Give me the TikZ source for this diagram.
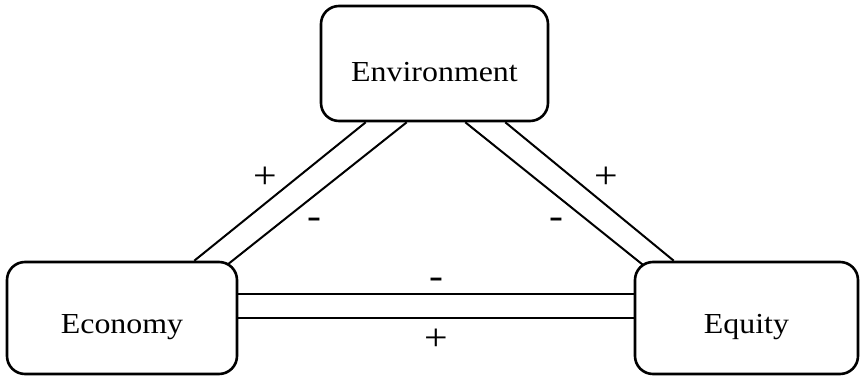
\documentclass[tikz,border=0pt]{standalone}
\usepackage{fontspec}
\setmainfont{Liberation Serif}[FakeStretch=1.1]
\usetikzlibrary{backgrounds}

\tikzset{
  sector/.style={draw, fill=white, line width=2.6pt, rounded corners=18pt,
    minimum height=112pt, text height=30pt, text depth=0pt, inner sep=0pt,
    font=\fontsize{29}{34}\selectfont},
  link/.style={line width=2pt},
  sign/.style={inner sep=2pt, font=\fontsize{38}{40}\selectfont},
}

\begin{document}
\begin{tikzpicture}[x=1pt, y=-1pt]
    \useasboundingbox (0,0) rectangle (860,377);
    \node[sector, minimum width=227pt, minimum height=115pt, text height=37pt] (env) at (434.5,63.5) {Environment};
    \node[sector, minimum width=230pt] (econ) at (122,318) {Economy};
    \node[sector, minimum width=223pt] (eq) at (746.5,318) {Equity};
    \begin{scope}[on background layer]
      % economy -- environment
      \draw[link] ([shift={(-44,0)}]econ.north east) -- ([shift={(46,0)}]env.south west)  node[sign, pos=.6, left=17pt] {+};
      \draw[link] ([shift={(-21,12)}]econ.north east) -- ([shift={(87,0)}]env.south west)  node[sign, pos=.33, right=25pt] {-};
      % environment -- equity
      \draw[link] ([shift={(-44,0)}]env.south east) -- ([shift={(40,0)}]eq.north west)  node[sign, pos=.4, right=19pt] {+};
      \draw[link] ([shift={(-84,0)}]env.south east) -- ([shift={(19,12)}]eq.north west)  node[sign, pos=.67, left=24pt] {-};
      % economy -- equity
      \draw[link] ([shift={(0,-24)}]econ.east) -- ([shift={(0,-24)}]eq.west)  node[sign, pos=.5, above=2.4pt] {-};
      \draw[link] ([shift={(0,0)}]econ.east) -- ([shift={(0,0)}]eq.west)  node[sign, pos=.5, below=7.7pt] {+};
    \end{scope}
  \end{tikzpicture}
\end{document}
